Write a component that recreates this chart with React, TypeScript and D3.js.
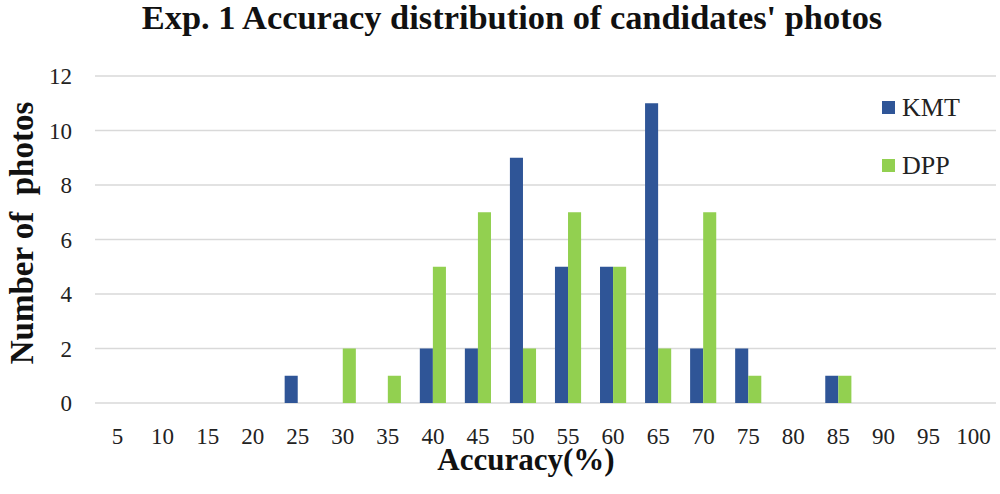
import React, { useEffect, useRef } from "react";
import * as d3 from "d3";

const categories = ["5", "10", "15", "20", "25", "30", "35", "40", "45", "50", "55", "60", "65", "70", "75", "80", "85", "90", "95", "100"];
const kmtValues = [0, 0, 0, 0, 1, 0, 0, 2, 2, 9, 5, 5, 11, 2, 2, 0, 1, 0, 0, 0];
const dppValues = [0, 0, 0, 0, 0, 2, 1, 5, 7, 2, 7, 5, 2, 7, 1, 0, 1, 0, 0, 0];
const yTicks = [0, 2, 4, 6, 8, 10, 12];
const seriesNames = ["KMT", "DPP"];
const seriesColors = ["#2F5597", "#92D050"];

const W = 1000;
const H = 494;
const FONT = "'Liberation Serif', 'Times New Roman', serif";

export default function App() {
  const ref = useRef<SVGSVGElement>(null);

  useEffect(() => {
    const svg = d3.select(ref.current);
    svg.selectAll("*").remove();

    const margin = { top: 76, right: 4, bottom: 91, left: 95 };
    const innerW = W - margin.left - margin.right;
    const innerH = H - margin.top - margin.bottom;

    const x = d3.scaleBand().domain(categories).range([0, innerW]).paddingInner(0.42).paddingOuter(0.21);
    const xSub = d3.scaleBand().domain(seriesNames).range([0, x.bandwidth()]);
    const y = d3.scaleLinear().domain([0, 12]).range([innerH, 0]);

    const g = svg.append("g").attr("transform", `translate(${margin.left},${margin.top})`);

    // gridlines
    g.selectAll("line.grid")
      .data(yTicks)
      .enter()
      .append("line")
      .attr("x1", 0)
      .attr("x2", innerW)
      .attr("y1", (d) => y(d))
      .attr("y2", (d) => y(d))
      .attr("stroke", "#d9d9d9")
      .attr("stroke-width", 1.3);

    // y tick labels
    g.selectAll("text.ytick")
      .data(yTicks)
      .enter()
      .append("text")
      .attr("x", -23)
      .attr("y", (d) => y(d))
      .attr("dy", "0.35em")
      .attr("text-anchor", "end")
      .attr("font-family", FONT)
      .attr("font-size", 23)
      .attr("fill", "#222")
      .text((d) => d);

    // x tick labels
    g.selectAll("text.xtick")
      .data(categories)
      .enter()
      .append("text")
      .attr("x", (d) => (x(d) as number) + x.bandwidth() / 2)
      .attr("y", innerH + 41)
      .attr("text-anchor", "middle")
      .attr("font-family", FONT)
      .attr("font-size", 23)
      .attr("fill", "#222")
      .text((d) => d);

    const allSeries = [kmtValues, dppValues];
    allSeries.forEach((vals, si) => {
      g.selectAll(`rect.s${si}`)
        .data(vals.map((v, i) => ({ cat: categories[i], v })).filter((d) => d.v > 0))
        .enter()
        .append("rect")
        .attr("x", (d) => (x(d.cat) as number) + (xSub(seriesNames[si]) as number))
        .attr("width", xSub.bandwidth())
        .attr("y", (d) => y(d.v))
        .attr("height", (d) => y(0) - y(d.v))
        .attr("fill", seriesColors[si]);
    });

    // legend
    const legend = svg.append("g").attr("transform", "translate(882,101)");
    seriesNames.forEach((name, i) => {
      const row = legend.append("g").attr("transform", `translate(0,${i * 58})`);
      row.append("rect").attr("width", 13).attr("height", 13).attr("fill", seriesColors[i]);
      row
        .append("text")
        .attr("x", 20)
        .attr("y", 15)
        .attr("font-family", FONT)
        .attr("font-size", 26)
        .attr("fill", "#222")
        .text(name);
    });

    // title
    svg
      .append("text")
      .attr("x", 512)
      .attr("y", 29)
      .attr("text-anchor", "middle")
      .attr("font-family", FONT)
      .attr("font-weight", "bold")
      .attr("font-size", 34.4)
      .attr("fill", "#111")
      .text("Exp. 1 Accuracy distribution of candidates' photos");

    // x axis title
    svg
      .append("text")
      .attr("x", 526)
      .attr("y", 470)
      .attr("text-anchor", "middle")
      .attr("font-family", FONT)
      .attr("font-weight", "bold")
      .attr("font-size", 31)
      .attr("fill", "#111")
      .text("Accuracy(%)");

    // y axis title
    svg
      .append("text")
      .attr("transform", "translate(33,233) rotate(-90)")
      .attr("text-anchor", "middle")
      .attr("font-family", FONT)
      .attr("font-weight", "bold")
      .attr("font-size", 33)
      .attr("fill", "#111")
      .attr("xml:space", "preserve")
      .style("white-space", "pre")
      .text("Number of  photos");
  }, []);

  return (
    <svg ref={ref} width={W} height={H} style={{ position: "absolute", left: 0, top: 0, background: "#fff" }} />
  );
}
